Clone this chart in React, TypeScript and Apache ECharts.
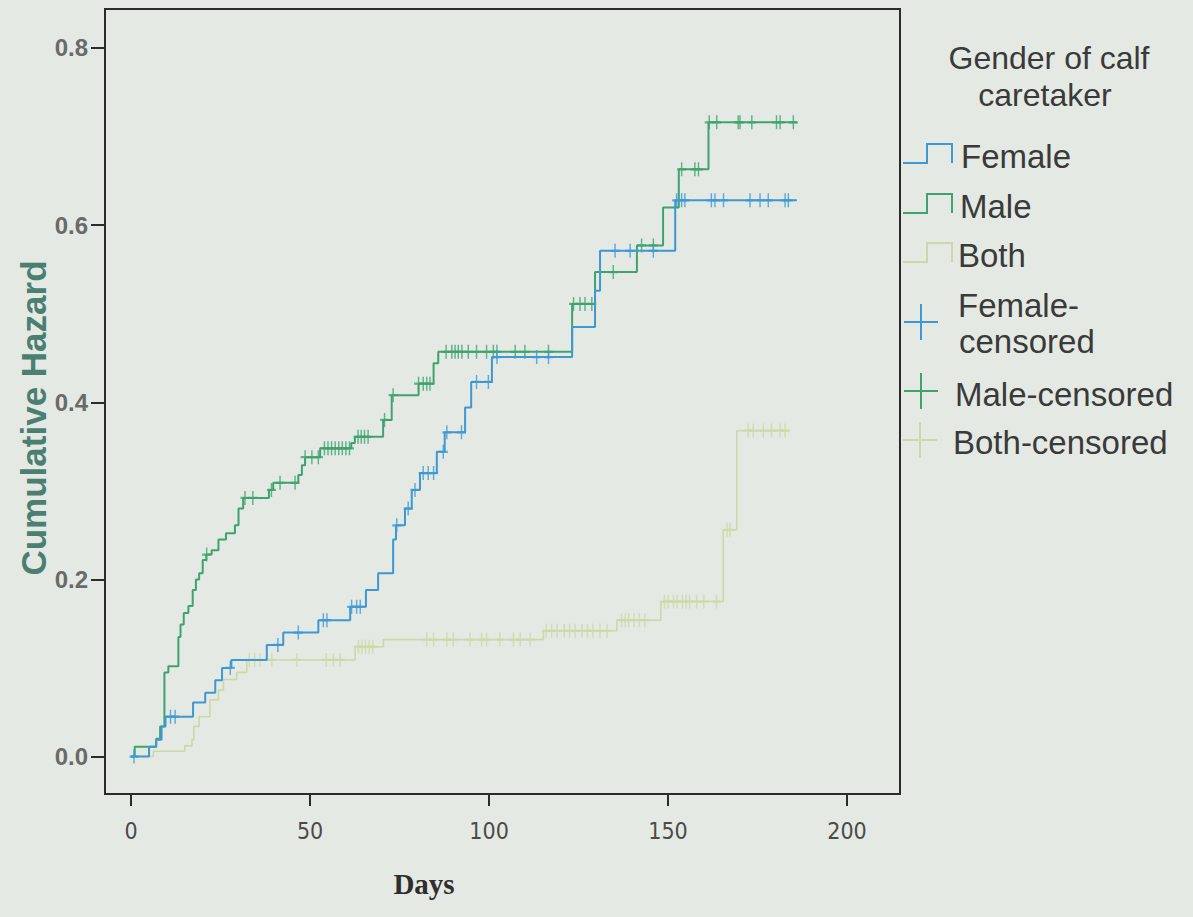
import React, { useEffect, useRef } from "react";
import * as echarts from "echarts";

// ---- axis ticks ----
const xTicks = [0, 50, 100, 150, 200];
const yTicks = [0, 0.2, 0.4, 0.6, 0.8];

// ---- Female (blue) cumulative hazard steps ----
const femaleDays = [0, 5, 7, 8.5, 9.6, 17.3, 20.7, 23.5, 25.4, 28, 37.9, 42.5, 52.3, 61.2, 65.6, 69, 73.2, 74, 76.5, 78.4, 80.7, 85.4, 87.6, 93.3, 95, 100.8, 123.2, 129.6, 131, 152, 186];
const femaleHazard = [0, 0.011, 0.019, 0.034, 0.045, 0.061, 0.072, 0.086, 0.1, 0.109, 0.126, 0.14, 0.154, 0.169, 0.188, 0.207, 0.245, 0.261, 0.28, 0.301, 0.32, 0.344, 0.366, 0.394, 0.423, 0.451, 0.485, 0.526, 0.571, 0.628, 0.628];
const femaleCensored = [0.8, 11, 12.3, 27.7, 41, 46.7, 53.7, 54.7, 61.6, 63, 64, 74.2, 77.4, 79.3, 81.6, 83, 84.5, 87.2, 88.2, 92.3, 96.5, 99.8, 102.2, 113.3, 116.6, 135.2, 139.4, 145.9, 152.4, 153.8, 154.7, 162.1, 163.1, 165.5, 172.9, 175.7, 178, 182.7, 183.6];

// ---- Male (green) ----
const maleDays = [0, 1, 7, 8.1, 9.3, 10.4, 13.2, 13.8, 14.7, 16, 17.2, 18.1, 19, 20, 21, 22.5, 24.4, 26.5, 29, 30, 31.3, 38.5, 39.7, 46.7, 47.7, 48.6, 52.8, 61.5, 62.5, 70.4, 72.8, 80.3, 84.5, 85.8, 123.2, 129.6, 141.3, 148.6, 153, 161.3, 186];
const maleHazard = [0, 0.011, 0.02, 0.034, 0.095, 0.102, 0.135, 0.149, 0.162, 0.17, 0.188, 0.2, 0.207, 0.222, 0.228, 0.233, 0.245, 0.252, 0.261, 0.28, 0.292, 0.301, 0.309, 0.318, 0.329, 0.338, 0.348, 0.354, 0.361, 0.38, 0.408, 0.421, 0.444, 0.457, 0.511, 0.547, 0.577, 0.62, 0.663, 0.716, 0.716];
const maleCensored = [21.1, 31.8, 34, 39.2, 41.6, 45.8, 48.6, 50.5, 52.3, 54, 55, 56, 57, 58, 59, 60, 61, 63.4, 64.3, 65.2, 66.2, 70.8, 73.2, 80.3, 81.6, 82.6, 83.5, 88, 89.6, 90.5, 91.4, 92.4, 94.2, 96.5, 99.3, 101.2, 102.2, 107.3, 110, 116.6, 123.6, 125.4, 126.8, 128.7, 134.7, 142.6, 145.9, 153.8, 157.5, 158.5, 161.5, 163.6, 169.6, 170.1, 173.4, 180.3, 181.3, 185];

// ---- Both (pale yellow-green) ----
const bothDays = [0, 6.2, 15, 17, 17.5, 19, 22, 24.4, 25.8, 29.5, 32.3, 62.6, 70.5, 115.2, 135.7, 148, 165.4, 169.2, 184];
const bothHazard = [0, 0.006, 0.012, 0.019, 0.034, 0.045, 0.064, 0.075, 0.087, 0.095, 0.109, 0.124, 0.132, 0.142, 0.154, 0.175, 0.256, 0.368, 0.368];
const bothCensored = [33, 34.5, 36, 39.3, 46.3, 54.5, 56.5, 58.4, 63.5, 64.5, 65.5, 66.5, 67.5, 82.6, 84.5, 88.2, 90, 94.7, 97.9, 99.3, 103, 106.8, 108.7, 111.5, 116, 117.5, 119, 121, 122.5, 124, 126, 127.5, 129, 131, 133, 137, 138, 139, 140.5, 142, 143.5, 149, 150, 151.5, 152.5, 154, 155, 156, 158, 160, 163.5, 166.5, 167.3, 172.4, 173.8, 176.6, 178.9, 181.3, 182.7];

const BLUE = "#3d98d4";
const GREEN = "#3fa36f";
const BOTH = "#cad9a6";
const BG = "#e4e9e3";
const CROSS = "path://M5,0L5,14M0,7L10,7";

function hazardAt(days: number[], hz: number[], t: number): number {
  let h = hz[0];
  for (let i = 0; i < days.length; i++) if (days[i] <= t) h = hz[i];
  return h;
}

function stepSeries(name: string, days: number[], hz: number[], color: string, width: number, z: number) {
  return {
    type: "line",
    name,
    data: days.map((d, i) => [d, hz[i]]),
    step: "end",
    symbol: "none",
    showSymbol: false,
    silent: true,
    lineStyle: { color, width },
    z,
  };
}

function censorSeries(name: string, cens: number[], days: number[], hz: number[], color: string, z: number) {
  return {
    type: "scatter",
    name,
    data: cens.map((t) => [t, hazardAt(days, hz, t)]),
    symbol: CROSS,
    symbolSize: [9, 14],
    silent: true,
    itemStyle: { color, borderColor: color, borderWidth: 1.8 },
    z,
  };
}

const TXT = "#3a3a3a";
const SANS = '"Liberation Sans", Arial, sans-serif';

function legendGraphics() {
  const g: any[] = [];
  const text = (s: string, x: number, y: number, size: number, align = "left") => ({
    type: "text",
    x,
    y,
    style: { text: s, align, verticalAlign: "middle", font: `${size}px ${SANS}`, fill: TXT },
  });
  g.push(text("Gender of calf", 1049, 58, 32, "center"));
  g.push(text("caretaker", 1045, 95, 32, "center"));
  const stepIcon = (y: number, color: string) => ({
    type: "polyline",
    shape: { points: [[903, y + 9], [927, y + 9], [927, y - 10], [952, y - 10], [952, y + 9]] },
    style: { stroke: color, lineWidth: 2, fill: "none" },
  });
  g.push(stepIcon(154, BLUE));
  g.push(text("Female", 961, 156, 33));
  g.push(stepIcon(204, GREEN));
  g.push(text("Male", 960, 206, 33));
  g.push(stepIcon(253, BOTH));
  g.push(text("Both", 958, 255, 33));
  const plus = (cx: number, cy: number, color: string) => [
    { type: "line", shape: { x1: cx, y1: cy - 18, x2: cx, y2: cy + 18 }, style: { stroke: color, lineWidth: 2 } },
    { type: "line", shape: { x1: cx - 17, y1: cy, x2: cx + 17, y2: cy }, style: { stroke: color, lineWidth: 2 } },
  ];
  g.push(...plus(921, 322, BLUE));
  g.push(text("Female-", 958, 305, 33));
  g.push(text("censored", 959, 341, 33));
  g.push(...plus(921, 391, GREEN));
  g.push(text("Male-censored", 955, 394, 33));
  g.push(...plus(920, 440, BOTH));
  g.push(text("Both-censored", 953, 442, 33));
  // axis titles
  g.push({
    type: "text",
    x: 33,
    y: 418,
    rotation: Math.PI / 2,
    style: { text: "Cumulative Hazard", align: "center", verticalAlign: "middle", font: `bold 35px ${SANS}`, fill: "#4a7f72" },
  });
  g.push({
    type: "text",
    x: 424,
    y: 884,
    style: { text: "Days", align: "center", verticalAlign: "middle", font: 'bold 29px "Liberation Serif", "Times New Roman", serif', fill: "#2e2e2e" },
  });
  return g;
}

export default function App() {
  const ref = useRef<HTMLDivElement>(null);
  useEffect(() => {
    const chart = echarts.init(ref.current!, null, { renderer: "svg" });
    chart.setOption({
      animation: false,
      backgroundColor: BG,
      grid: {
        left: 105,
        top: 9,
        width: 795,
        height: 785,
        show: true,
        borderColor: "#2b2b2b",
        borderWidth: 2,
        backgroundColor: "transparent",
        containLabel: false,
      },
      xAxis: {
        type: "value",
        min: -7.3,
        max: 214.8,
        position: "bottom",
        axisLine: { show: false, onZero: false },
        splitLine: { show: false },
        axisTick: { show: true, customValues: xTicks, length: 12, lineStyle: { color: "#2b2b2b", width: 2 } },
        axisLabel: {
          customValues: xTicks,
          fontSize: 23,
          color: "#4a4a4a",
          margin: 25,
          fontFamily: '"Liberation Sans Narrow", "DejaVu Sans Condensed", sans-serif',
        },
      },
      yAxis: {
        type: "value",
        min: -0.0423,
        max: 0.844,
        position: "left",
        axisLine: { show: false, onZero: false },
        splitLine: { show: false },
        axisTick: { show: true, customValues: yTicks, length: 14, lineStyle: { color: "#2b2b2b", width: 2 } },
        axisLabel: {
          customValues: yTicks,
          fontSize: 24,
          fontWeight: "bold",
          color: "#6a6a6a",
          margin: 17,
          fontFamily: SANS,
          formatter: (v: number) => v.toFixed(1),
        },
      },
      graphic: legendGraphics(),
      series: [
        stepSeries("Both", bothDays, bothHazard, BOTH, 1.6, 2),
        censorSeries("Both-censored", bothCensored, bothDays, bothHazard, BOTH, 2),
        stepSeries("Male", maleDays, maleHazard, GREEN, 2, 3),
        censorSeries("Male-censored", maleCensored, maleDays, maleHazard, GREEN, 3),
        stepSeries("Female", femaleDays, femaleHazard, BLUE, 2, 4),
        censorSeries("Female-censored", femaleCensored, femaleDays, femaleHazard, BLUE, 4),
      ],
    });
    return () => chart.dispose();
  }, []);
  return (
    <div
      ref={ref}
      style={{ position: "fixed", left: 0, top: 0, width: 1193, height: 917, background: BG }}
    />
  );
}
